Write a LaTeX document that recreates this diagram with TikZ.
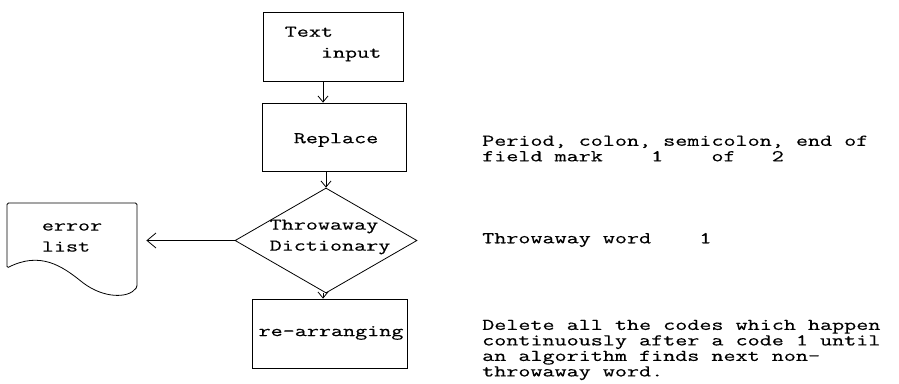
\documentclass[tikz,border=0pt]{standalone}
\usepackage{fontspec}
\setmonofont{Latin Modern Mono}[FakeStretch=1.42,FakeBold=0.4]
\usetikzlibrary{arrows.meta,shapes.geometric}
\begin{document}
\begin{tikzpicture}[x=1pt,y=-1pt,
  every node/.style={font=\ttfamily\fontsize{16.5}{21}\selectfont, inner sep=0pt},
  line/.style={line width=0.8pt, black},
  box/.style={line, draw, rectangle},
  tip/.style={line, -{Straight Barb[length=6pt,width=10pt,line width=0.8pt]}},
  bigtip/.style={line, -{Straight Barb[length=9pt,width=15pt,line width=0.8pt]}},
  note/.style={anchor=west, align=left, font=\ttfamily\fontsize{16.5}{15.5}\selectfont}]
\useasboundingbox (0,0) rectangle (899,383);

% process boxes
\node[box, minimum width=140pt, minimum height=69pt] (textin) at (333,46.5) {};
\node[align=left] (textlbl) at (333,44) {Text\\\hphantom{xxx}input};

\node[box, minimum width=144pt, minimum height=68pt] (repl) at (334,137) {};
\node (repllbl) at (336,140) {Replace};

\node[draw, line, diamond, minimum width=182pt, minimum height=105pt] (dict) at (326,240.5) {};
\node[align=left] (dictlbl) at (330,237) {Throwaway\\Dictionary};

\node[box, minimum width=155pt, minimum height=69pt] (rearr) at (329.5,333.5) {};
\node (rearrlbl) at (331,333) {re-arranging};

% document symbol for the error list
\draw[line, rounded corners=1.5pt] (7,268) -- (7,203) -- (137,203) -- (137,287)
  .. controls (128,299) and (103,298) .. (82,282)
  .. controls (62,266) and (40,251) .. (7,268) -- cycle;
\node[align=left] (errl) at (72,237.5) {error\\list};

% flow connectors
\draw[tip] ([xshift=-10pt]textin.south) -- ([xshift=-10pt]textin.south |- repl.north);
\draw[tip] (dict.north |- repl.south) -- (dict.north);
\draw[tip] ([xshift=-3pt]dict.south) -- ([xshift=-3pt]dict.south |- rearr.north);
\draw[bigtip] (dict.west) -- ([xshift=44pt]errl.east |- dict.west);

% explanatory notes
\node[note] (n1) at (482,148.5) {Period, colon, semicolon, end of\\field mark\hphantom{xxxx}1\hphantom{xxxx}of\hphantom{xxx}2};
\node[note] (n2) at (482,240) {Throwaway word\hphantom{xxxx}1};
\node[note] (n3) at (482,350) {Delete all the codes which happen\\continuously after a code 1 until\\an algorithm finds next non-\\throwaway word.};
\end{tikzpicture}
\end{document}
